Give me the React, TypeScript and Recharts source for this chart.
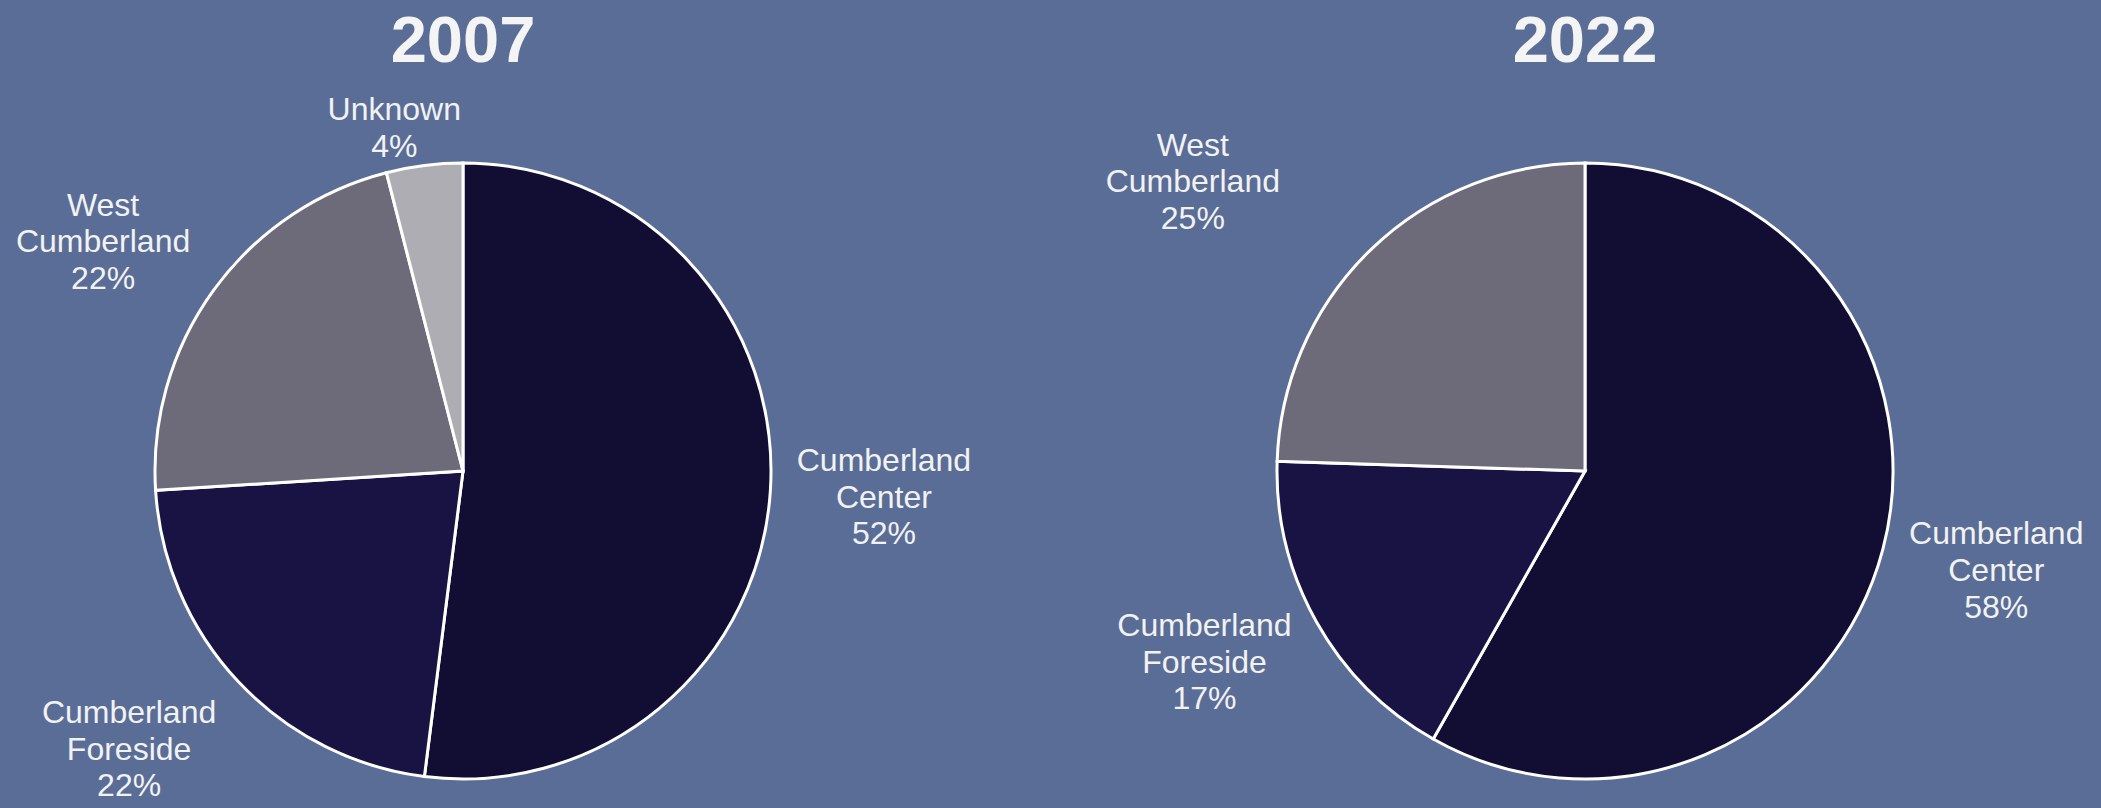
import React from "react";
import { PieChart, Pie, Cell } from "recharts";

// ---- data ----
const TITLES = ["2007", "2022"];

const NAMES_2007 = ["Cumberland Center", "Cumberland Foreside", "West Cumberland", "Unknown"];
const VALUES_2007 = [52, 22, 22, 4];

const NAMES_2022 = ["Cumberland Center", "Cumberland Foreside", "West Cumberland"];
const VALUES_2022 = [58.2, 17.3, 24.5];

// ---- styling / label placement ----
const W = 2101;
const H = 808;
const BG = "#5A6D96";
const TEXT = "#F2F2F2";
const FONT = "'Liberation Sans', Arial, sans-serif";
const SLICE_COLORS: Record<string, string> = {
  "Cumberland Center": "#110D33",
  "Cumberland Foreside": "#191344",
  "West Cumberland": "#6D6B7A",
  Unknown: "#AEADB4",
};
const LABEL_DIST_2007 = [1.369, 1.409, 1.387, 1.139];
const LABEL_TURN_2007 = [-0.2, 3.5, -3.4, -4.1];
const LABEL_DIST_2022 = [1.373, 1.381, 1.584];
const LABEL_TURN_2022 = [-1.3, 2.8, -9.4];

const RAD = Math.PI / 180;

const toRows = (names: string[], values: number[]) =>
  names.map((n, i) => ({ name: n, value: values[i] }));

const makeLabel =
  (names: string[], values: number[], dist: number[], turn: number[]) =>
  (props: any) => {
    const { cx, cy, midAngle, outerRadius } = props;
    let index = props.index;
    if (index === undefined || index === null) {
      index = Math.max(0, names.indexOf(props.name));
    }
    const theta = midAngle - turn[index];
    const r = outerRadius * dist[index];
    const x = cx + r * Math.cos(-theta * RAD);
    const y = cy + r * Math.sin(-theta * RAD);
    const lines = [...names[index].split(" "), `${Math.round(values[index])}%`];
    const n = lines.length;
    return (
      <text
        key={`lbl-${index}`}
        x={x}
        y={y}
        textAnchor="middle"
        fill={TEXT}
        fontSize={32}
        fontFamily={FONT}
      >
        {lines.map((l, i) => (
          <tspan key={i} x={x} y={y + 11.5 + (i - (n - 1) / 2) * 36.7}>
            {l}
          </tspan>
        ))}
      </text>
    );
  };

export default function App() {
  const rows2007 = toRows(NAMES_2007, VALUES_2007);
  const rows2022 = toRows(NAMES_2022, VALUES_2022);
  return (
    <div
      style={{
        position: "absolute",
        left: 0,
        top: 0,
        width: W,
        height: H,
        background: BG,
        overflow: "hidden",
      }}
    >
      <PieChart width={W} height={H} margin={{ top: 0, right: 0, bottom: 0, left: 0 }}>
        <Pie
          data={rows2007}
          dataKey="value"
          nameKey="name"
          cx={463}
          cy={471}
          outerRadius={308}
          startAngle={90}
          endAngle={-270}
          stroke="#FFFFFF"
          strokeWidth={3}
          labelLine={false}
          label={makeLabel(NAMES_2007, VALUES_2007, LABEL_DIST_2007, LABEL_TURN_2007)}
          isAnimationActive={false}
        >
          {rows2007.map((r) => (
            <Cell key={r.name} fill={SLICE_COLORS[r.name]} />
          ))}
        </Pie>
        <Pie
          data={rows2022}
          dataKey="value"
          nameKey="name"
          cx={1585}
          cy={471}
          outerRadius={308}
          startAngle={90}
          endAngle={-270}
          stroke="#FFFFFF"
          strokeWidth={3}
          labelLine={false}
          label={makeLabel(NAMES_2022, VALUES_2022, LABEL_DIST_2022, LABEL_TURN_2022)}
          isAnimationActive={false}
        >
          {rows2022.map((r) => (
            <Cell key={r.name} fill={SLICE_COLORS[r.name]} />
          ))}
        </Pie>
      </PieChart>
      <svg
        width={W}
        height={H}
        style={{ position: "absolute", left: 0, top: 0, pointerEvents: "none" }}
      >
        {TITLES.map((t, i) => (
          <text
            key={t}
            x={i === 0 ? 463 : 1585}
            y={62}
            textAnchor="middle"
            fill="#F4F4F4"
            fontSize={65}
            fontWeight="bold"
            fontFamily={FONT}
          >
            {t}
          </text>
        ))}
      </svg>
    </div>
  );
}
